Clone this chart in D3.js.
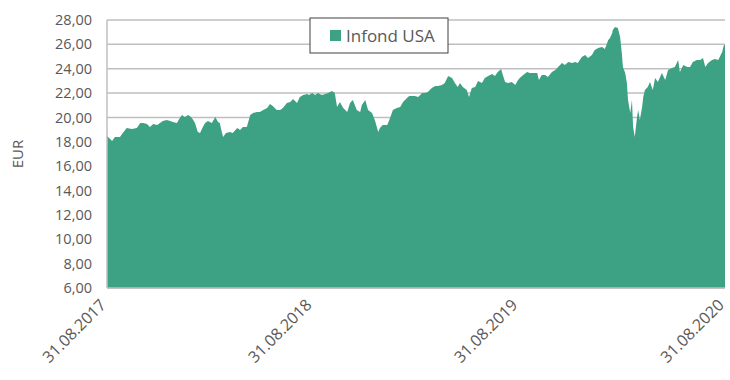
<!DOCTYPE html>
<html>
<head>
<meta charset="utf-8">
<script src="https://cdn.jsdelivr.net/npm/d3@7"></script>
<style>
  html, body { margin: 0; padding: 0; background: #fff; }
  svg { display: block; }
  text { font-family: "Open Sans", "Noto Sans", sans-serif; fill: #595959; }
</style>
</head>
<body>
<svg id="chart" width="730" height="380"></svg>
<script>
// Fund price history (EUR), Infond USA
const seriesName = "Infond USA";
const axisTitle = "EUR";

const dates = [
  "2017-08-31","2017-09-02","2017-09-09","2017-09-14","2017-09-23","2017-09-28","2017-10-05","2017-10-14","2017-10-23","2017-10-29",
  "2017-11-03","2017-11-10","2017-11-15","2017-11-21","2017-11-28","2017-12-03","2017-12-08","2017-12-15","2017-12-21","2017-12-26",
  "2018-01-02","2018-01-06","2018-01-11","2018-01-16","2018-01-22","2018-01-27","2018-01-31","2018-02-03","2018-02-08","2018-02-12",
  "2018-02-17","2018-02-21","2018-02-26","2018-03-05","2018-03-11","2018-03-16","2018-03-19","2018-03-23","2018-03-25","2018-03-30",
  "2018-04-06","2018-04-11","2018-04-19","2018-04-24","2018-04-29","2018-05-06","2018-05-12","2018-05-17","2018-05-24","2018-05-29",
  "2018-06-04","2018-06-11","2018-06-16","2018-06-21","2018-06-28","2018-07-04","2018-07-09","2018-07-16","2018-07-22","2018-07-27",
  "2018-08-03","2018-08-08","2018-08-14","2018-08-21","2018-08-24","2018-08-30","2018-09-04","2018-09-09","2018-09-16","2018-09-22",
  "2018-09-27","2018-10-04","2018-10-09","2018-10-13","2018-10-18","2018-10-24","2018-10-31","2018-11-05","2018-11-10","2018-11-17",
  "2018-11-23","2018-11-26","2018-12-02","2018-12-07","2018-12-14","2018-12-19","2018-12-25","2018-12-28","2019-01-02","2019-01-10",
  "2019-01-15","2019-01-20","2019-01-27","2019-02-02","2019-02-07","2019-02-14","2019-02-18","2019-02-23","2019-02-28","2019-03-06",
  "2019-03-13","2019-03-18","2019-03-23","2019-03-30","2019-04-05","2019-04-10","2019-04-17","2019-04-22","2019-04-28","2019-05-05",
  "2019-05-10","2019-05-15","2019-05-19","2019-05-24","2019-05-31","2019-06-04","2019-06-09","2019-06-15","2019-06-20","2019-06-27",
  "2019-07-02","2019-07-08","2019-07-15","2019-07-20","2019-07-25","2019-07-31","2019-08-03","2019-08-07","2019-08-12","2019-08-19",
  "2019-08-25","2019-08-30","2019-09-02","2019-09-08","2019-09-15","2019-09-20","2019-09-25","2019-10-03","2019-10-06","2019-10-11",
  "2019-10-17","2019-10-22","2019-10-29","2019-11-04","2019-11-09","2019-11-16","2019-11-21","2019-11-27","2019-12-04","2019-12-09",
  "2019-12-14","2019-12-21","2019-12-27","2020-01-01","2020-01-08","2020-01-13","2020-01-19","2020-01-26","2020-01-31","2020-02-06",
  "2020-02-09","2020-02-13","2020-02-14","2020-02-18","2020-02-23","2020-02-27","2020-03-01","2020-03-03","2020-03-07","2020-03-10",
  "2020-03-12","2020-03-16","2020-03-19","2020-03-21","2020-03-24","2020-03-28","2020-03-30","2020-04-02","2020-04-06","2020-04-08",
  "2020-04-11","2020-04-16","2020-04-20","2020-04-25","2020-04-29","2020-05-04","2020-05-11","2020-05-17","2020-05-22","2020-05-29",
  "2020-06-03","2020-06-09","2020-06-12","2020-06-18","2020-06-25","2020-06-30","2020-07-05","2020-07-12","2020-07-18","2020-07-23",
  "2020-07-27","2020-08-01","2020-08-08","2020-08-13","2020-08-19","2020-08-26","2020-08-29","2020-08-31"
];

const prices = [
  18.56,18.40,18.07,18.40,18.40,18.72,19.13,19.05,19.13,19.54,
  19.54,19.46,19.22,19.46,19.38,19.54,19.71,19.79,19.71,19.63,
  19.54,19.87,20.20,20.04,20.20,20.04,19.79,19.54,18.81,18.72,
  19.22,19.54,19.71,19.54,20.04,19.63,19.54,18.72,18.40,18.72,
  18.81,18.72,19.13,18.97,19.22,19.22,20.20,20.37,20.45,20.45,
  20.61,20.78,21.10,20.94,20.61,20.61,20.78,21.19,21.27,21.51,
  21.19,21.68,21.84,21.93,21.84,22.01,21.84,22.01,21.84,21.93,
  22.01,22.17,22.01,20.86,21.27,20.78,20.45,21.19,21.43,20.61,
  20.45,21.02,21.43,20.61,20.37,19.79,18.81,19.13,19.38,19.38,
  19.96,20.61,20.78,20.86,21.27,21.60,21.76,21.76,21.76,21.68,
  22.01,22.01,22.09,22.42,22.58,22.58,22.66,22.83,23.40,23.24,
  22.83,22.50,22.83,22.50,22.25,21.68,22.42,22.50,22.99,22.83,
  23.24,23.40,23.57,23.40,23.73,23.98,23.49,22.91,22.83,22.91,
  22.66,23.07,23.24,23.49,23.73,23.65,23.65,23.65,23.07,23.49,
  23.49,23.32,23.73,23.90,24.14,24.47,24.31,24.55,24.47,24.55,
  24.47,24.96,25.13,24.88,25.13,25.54,25.70,25.78,25.62,26.36,
  26.52,26.93,27.18,27.43,27.34,26.60,25.29,24.14,23.65,22.83,
  21.43,20.37,21.43,19.22,18.40,20.04,20.61,19.79,20.86,21.68,
  22.25,22.50,22.91,22.25,23.24,22.91,23.65,23.07,23.90,24.06,
  24.14,24.72,23.73,24.31,24.14,24.14,24.55,24.72,24.72,24.88,
  24.14,24.47,24.72,24.80,24.72,25.37,25.95,25.95
];

const yTicks = [6, 8, 10, 12, 14, 16, 18, 20, 22, 24, 26, 28];
const xTickDates = ["2017-08-31", "2018-08-31", "2019-08-31", "2020-08-31"];

const parse = d3.timeParse("%Y-%m-%d");
const data = dates.map((d, i) => ({ date: parse(d), value: prices[i] }));

const margin = { left: 107, right: 5, top: 20, bottom: 92 };
const width = 730, height = 380;
const svg = d3.select("#chart");

const x = d3.scaleTime()
  .domain([parse(xTickDates[0]), parse(xTickDates[xTickDates.length - 1])])
  .range([margin.left, width - margin.right]);
const y = d3.scaleLinear()
  .domain([yTicks[0], yTicks[yTicks.length - 1]])
  .range([height - margin.bottom, margin.top]);

const locale = d3.formatLocale({ decimal: ",", thousands: ".", grouping: [3], currency: ["", " €"] });
const fmtY = locale.format(".2f");
const fmtX = d3.timeFormat("%d.%m.%Y");

const gridColor = "#bfbfbf";
const fill = "#3da284";

// horizontal gridlines
svg.append("g")
  .selectAll("line")
  .data(yTicks)
  .join("line")
  .attr("x1", x.range()[0])
  .attr("x2", x.range()[1])
  .attr("y1", d => y(d))
  .attr("y2", d => y(d))
  .attr("stroke", gridColor)
  .attr("stroke-width", 1.5);

// price area
const area = d3.area()
  .x(d => x(d.date))
  .y0(y(yTicks[0]))
  .y1(d => y(d.value));

svg.append("path")
  .datum(data)
  .attr("d", area)
  .attr("fill", fill);

// axis lines
svg.append("line")
  .attr("x1", x.range()[0]).attr("x2", x.range()[0])
  .attr("y1", y.range()[1]).attr("y2", y.range()[0])
  .attr("stroke", gridColor).attr("stroke-width", 1.5);
svg.append("line")
  .attr("x1", x.range()[0]).attr("x2", x.range()[1])
  .attr("y1", y.range()[0]).attr("y2", y.range()[0])
  .attr("stroke", gridColor).attr("stroke-width", 1.5);

// y tick labels
svg.append("g")
  .selectAll("text")
  .data(yTicks)
  .join("text")
  .attr("x", x.range()[0] - 15)
  .attr("y", d => y(d))
  .attr("dy", "0.35em")
  .attr("text-anchor", "end")
  .attr("font-size", 14.5)
  .text(d => fmtY(d));

// y axis title
svg.append("text")
  .attr("transform", `translate(23,${(y.range()[0] + y.range()[1]) / 2}) rotate(-90)`)
  .attr("text-anchor", "middle")
  .attr("font-size", 15)
  .text(axisTitle);

// x tick labels, rotated
svg.append("g")
  .selectAll("text")
  .data(xTickDates.map(parse))
  .join("text")
  .attr("transform", d => `translate(${x(d) - 4},${y.range()[0] + 14}) rotate(-45)`)
  .attr("text-anchor", "end")
  .attr("dy", "0.35em")
  .attr("font-size", 16)
  .text(d => fmtX(d));

// legend
const lg = svg.append("g").attr("transform", "translate(310,18)");
lg.append("rect")
  .attr("width", 138).attr("height", 35)
  .attr("fill", "#fff")
  .attr("stroke", "#404040").attr("stroke-width", 1);
lg.append("rect")
  .attr("x", 20).attr("y", 12).attr("width", 11).attr("height", 11)
  .attr("fill", fill);
lg.append("text")
  .attr("x", 36).attr("y", 18).attr("dy", "0.35em")
  .attr("font-size", 17)
  .text(seriesName);
</script>
</body>
</html>
